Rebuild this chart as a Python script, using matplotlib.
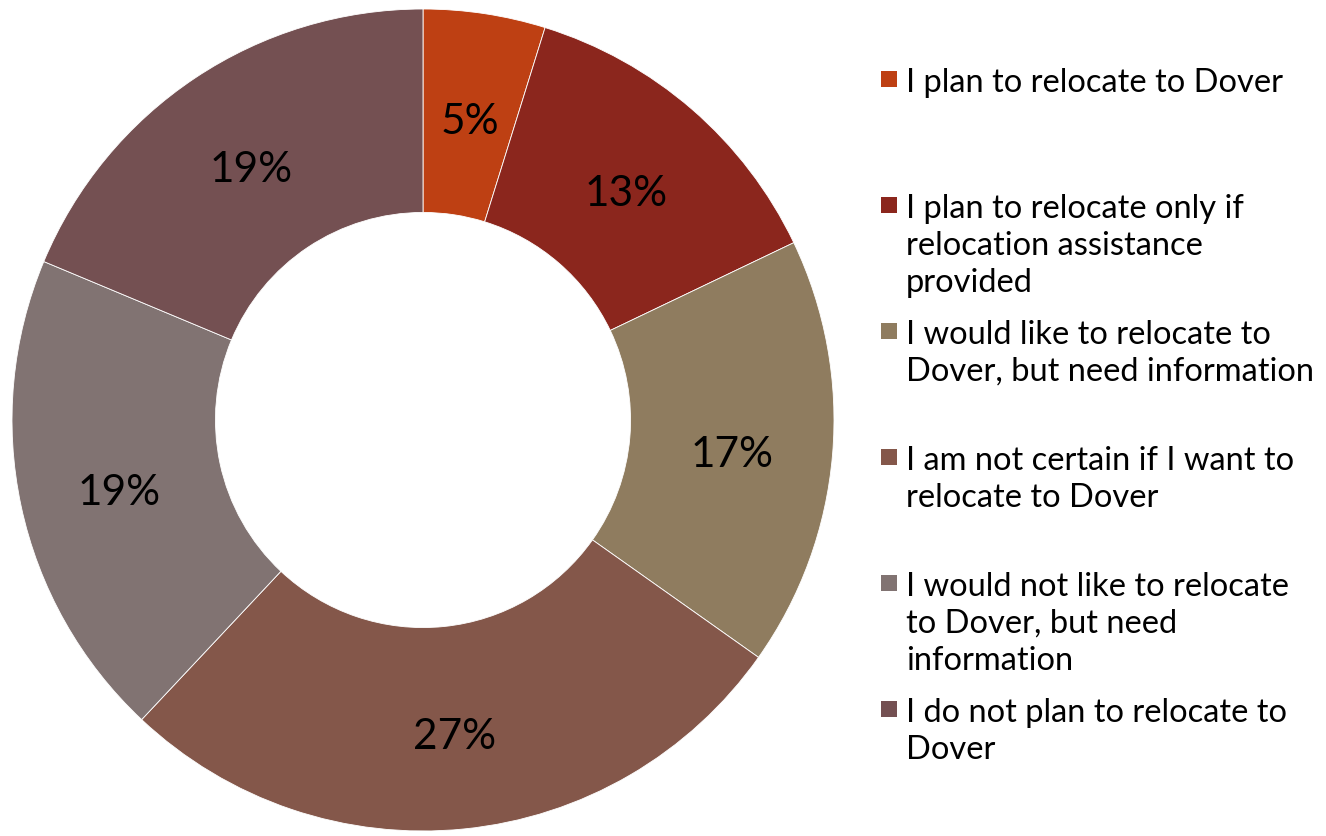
import matplotlib
matplotlib.use("Agg")
import matplotlib.pyplot as plt
from matplotlib.patches import Rectangle
import numpy as np

categories = [
    "I plan to relocate to Dover",
    "I plan to relocate only if\nrelocation assistance\nprovided",
    "I would like to relocate to\nDover, but need information",
    "I am not certain if I want to\nrelocate to Dover",
    "I would not like to relocate\nto Dover, but need\ninformation",
    "I do not plan to relocate to\nDover",
]
values = [4.8, 13.1, 16.9, 27.2, 19.3, 18.7]
pct_labels = ["5%", "13%", "17%", "27%", "19%", "19%"]
colors = ["#BE4013", "#8B261D", "#8F7C5F", "#84574A", "#817372", "#745052"]

plt.rcParams['font.family'] = ['Lato', 'DejaVu Sans']

W, H = 1326, 837
fig = plt.figure(figsize=(W / 100, H / 100), dpi=100)
cx, cy, R = 423, 421, 411
ax = fig.add_axes([(cx - R) / W, (H - cy - R) / H, 2 * R / W, 2 * R / H])
wedges, _ = ax.pie(values, colors=colors, startangle=90, counterclock=False,
                   radius=1.0, wedgeprops=dict(width=0.495, edgecolor="white", linewidth=0.6))
tot = sum(values)
cum = 0
for v, lab in zip(values, pct_labels):
    mid = 90 - 360 * (cum + v / 2) / tot
    r = 0.755
    ax.text(r * np.cos(np.radians(mid)), r * np.sin(np.radians(mid)) - 0.018, lab,
            ha="center", va="center", fontsize=30.5, color="black")
    cum += v
ax.set_xlim(-1, 1)
ax.set_ylim(-1, 1)
ax.set_aspect("equal")
ax.axis("off")

y0, dy, line_h = 80, 126, 37
for i, (lab, col) in enumerate(zip(categories, colors)):
    y = y0 + i * dy
    fig.patches.append(Rectangle((881 / W, (H - y - 8) / H), 16 / W, 16 / H,
                                 transform=fig.transFigure, facecolor=col, edgecolor="none"))
    for k, line in enumerate(lab.split("\n")):
        fig.text(906 / W, (H - (y + 12 + k * line_h)) / H, line, ha="left", va="baseline",
                 fontsize=23.5, color="black")

fig.savefig("out.png", dpi=100, facecolor="white")
